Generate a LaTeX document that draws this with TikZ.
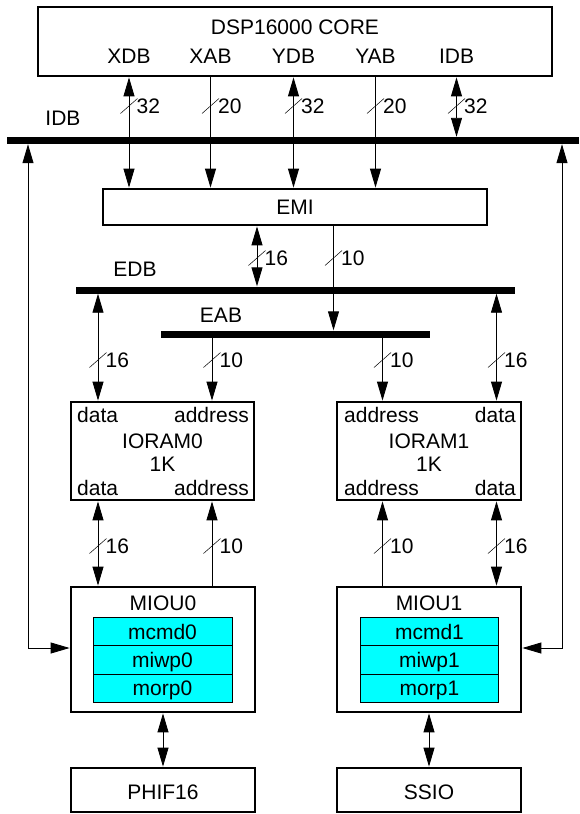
\documentclass[tikz,border=0pt]{standalone}
\usepackage{fontspec}
\setmainfont{Liberation Sans}
\usetikzlibrary{arrows.meta}
\definecolor{regcyan}{RGB}{0,255,255}
\begin{document}
\begin{tikzpicture}[x=1pt,y=-1pt,
  font=\fontsize{21}{25}\selectfont,
  >={Triangle[length=19pt,width=11pt]},
  box/.style={draw,line width=2.8pt,inner sep=0pt},
  bus/.style={fill=black,inner sep=0pt,minimum height=7pt},
  reg/.style={draw,fill=regcyan,line width=0.8pt,inner sep=0pt,minimum height=28.33pt},
  lbl/.style={inner sep=0pt,anchor=base},
  one/.style={line width=0.9pt,->},
  two/.style={line width=0.9pt,<->},
  wslash/.pic={\draw[line width=0.5pt] (-8.5,7.5) -- (8.5,-7.5);
               \node[inner sep=0pt,anchor=west] at (7.5,0) {\tikzpictext};}
]
\useasboundingbox (0,0) rectangle (579,814);

% core
\node[box,minimum width=514pt,minimum height=69pt] (core) at (295,41.5) {};
\node[lbl] (tcore) at (295,34) {DSP16000 CORE};
\node[lbl] (lxdb) at (129,63.5) {XDB};
\node[lbl] (lxab) at (210.5,63.5) {XAB};
\node[lbl] (lydb) at (293.5,63.5) {YDB};
\node[lbl] (lyab) at (375.5,63.5) {YAB};
\node[lbl] (lidbc) at (456.5,63.5) {IDB};

% buses
\node[bus,minimum width=572pt] (idb) at (293,140.5) {};
\node[lbl] (lidb) at (63,125) {IDB};
\node[bus,minimum width=439.5pt] (edb) at (295.25,290) {};
\node[lbl] (ledb) at (135,276) {EDB};
\node[bus,minimum width=269pt] (eab) at (295.5,334) {};
\node[lbl] (leab) at (221,322) {EAB};

% EMI
\node[box,minimum width=384pt,minimum height=36pt] (emi) at (295,207) {};
\node[lbl] (temi) at (295,214.5) {EMI};

% IORAMs
\node[box,minimum width=183pt,minimum height=98pt] (ram0) at (162.5,451) {};
\node[lbl,anchor=base west] (r0d1) at (77,422.5) {data};
\node[lbl,anchor=base east] (r0a1) at (249,422.5) {address};
\node[lbl] (r0n) at (162.5,448.5) {IORAM0};
\node[lbl] (r0k) at (162.5,471) {1K};
\node[lbl,anchor=base west] (r0d2) at (77,495.5) {data};
\node[lbl,anchor=base east] (r0a2) at (249,495.5) {address};

\node[box,minimum width=184pt,minimum height=98pt] (ram1) at (429,451) {};
\node[lbl,anchor=base west] (r1a1) at (344,422.5) {address};
\node[lbl,anchor=base east] (r1d1) at (516,422.5) {data};
\node[lbl] (r1n) at (429,448.5) {IORAM1};
\node[lbl] (r1k) at (429,471) {1K};
\node[lbl,anchor=base west] (r1a2) at (344,495.5) {address};
\node[lbl,anchor=base east] (r1d2) at (516,495.5) {data};

% MIOUs
\node[box,minimum width=184pt,minimum height=125pt] (miou0) at (163,649.5) {};
\node[lbl] (m0n) at (163,610.5) {MIOU0};
\node[reg,minimum width=139pt] (m0a) at (162.5,631.5) {};
\node[reg,minimum width=139pt] (m0b) at (162.5,659.8) {};
\node[reg,minimum width=139pt] (m0c) at (162.5,688.1) {};
\node[lbl] (m0at) at (162.5,639.3) {mcmd0};
\node[lbl] (m0bt) at (162.5,667.8) {miwp0};
\node[lbl] (m0ct) at (162.5,695.8) {morp0};

\node[box,minimum width=184pt,minimum height=125pt] (miou1) at (429,649.5) {};
\node[lbl] (m1n) at (429,610.5) {MIOU1};
\node[reg,minimum width=138pt] (m1a) at (429.5,631.5) {};
\node[reg,minimum width=138pt] (m1b) at (429.5,659.8) {};
\node[reg,minimum width=138pt] (m1c) at (429.5,688.1) {};
\node[lbl] (m1at) at (429.5,639.3) {mcmd1};
\node[lbl] (m1bt) at (429.5,667.8) {miwp1};
\node[lbl] (m1ct) at (429.5,695.8) {morp1};

% bottom boxes
\node[box,minimum width=184pt,minimum height=44pt] (phif) at (163,790) {};
\node[lbl] (tphif) at (163,799.5) {PHIF16};
\node[box,minimum width=184pt,minimum height=44pt] (ssio) at (429,790) {};
\node[lbl] (tssio) at (429,799.5) {SSIO};

% coordinates for connector columns
\coordinate (lx) at (28,0);
\coordinate (rx) at (562,0);
\coordinate (hy) at (0,648);
\coordinate (c16) at (257,0);
\coordinate (c10) at (333.5,0);
\coordinate (xa) at (98,0);
\coordinate (xb) at (212,0);
\coordinate (xc) at (382.5,0);
\coordinate (xd) at (496.5,0);

% core connectors
\draw[two] (core.south -| lxdb) -- (emi.north -| lxdb);
\draw[one] (core.south -| lxab) -- (emi.north -| lxab);
\draw[two] (core.south -| lydb) -- (emi.north -| lydb);
\draw[one] (core.south -| lyab) -- (emi.north -| lyab);
\draw[two] (core.south -| lidbc) -- (idb.north -| lidbc);
\pic[pic text=32] at (129,106) {wslash};
\pic[pic text=20] at (210.5,106) {wslash};
\pic[pic text=32] at (293.5,106) {wslash};
\pic[pic text=20] at (375.5,106) {wslash};
\pic[pic text=32] at (456.5,106) {wslash};

% side loops
\draw[two] (idb.south -| lx) |- (miou0.west |- hy);
\draw[two] (idb.south -| rx) |- (miou1.east |- hy);

% EMI to buses
\draw[two] (emi.south -| c16) -- (edb.north -| c16);
\draw[one] (emi.south -| c10) -- (eab.north -| c10);
\pic[pic text=16] at (257,258) {wslash};
\pic[pic text=10] at (333.5,258) {wslash};

% buses to IORAMs
\draw[two] (edb.south -| xa) -- (ram0.north -| xa);
\draw[one] (eab.south -| xb) -- (ram0.north -| xb);
\draw[one] (eab.south -| xc) -- (ram1.north -| xc);
\draw[two] (edb.south -| xd) -- (ram1.north -| xd);
\pic[pic text=16] at (98,360) {wslash};
\pic[pic text=10] at (212,360) {wslash};
\pic[pic text=10] at (382.5,360) {wslash};
\pic[pic text=16] at (496.5,360) {wslash};

% IORAMs to MIOUs
\draw[two] (ram0.south -| xa) -- (miou0.north -| xa);
\draw[one] (miou0.north -| xb) -- (ram0.south -| xb);
\draw[one] (miou1.north -| xc) -- (ram1.south -| xc);
\draw[two] (ram1.south -| xd) -- (miou1.north -| xd);
\pic[pic text=16] at (98,546) {wslash};
\pic[pic text=10] at (212,546) {wslash};
\pic[pic text=10] at (382.5,546) {wslash};
\pic[pic text=16] at (496.5,546) {wslash};

% MIOUs to peripherals
\draw[two] (miou0.south) -- (phif.north);
\draw[two] (miou1.south) -- (ssio.north);
\end{tikzpicture}
\end{document}
